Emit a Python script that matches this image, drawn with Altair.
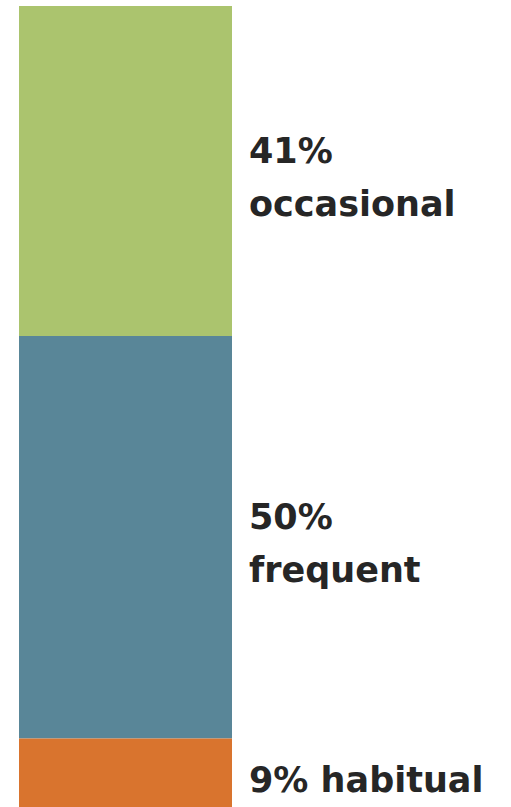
import altair as alt
import pandas as pd

categories = ["occasional", "frequent", "habitual"]
percents = [41, 50, 9]
stack_order = [3, 2, 1]
labels = ["41%\noccasional", "50%\nfrequent", "9% habitual"]
colors = ["#ABC46E", "#598698", "#D9742E"]

df = pd.DataFrame({
    "category": categories,
    "pct": percents,
    "order": stack_order,
    "label": labels,
    "group": ["all"] * 3,
})

base = alt.Chart(df).transform_stack(
    stack="pct", groupby=["group"], sort=[alt.SortField("order", order="ascending")], as_=["y0", "y1"]
).transform_calculate(mid="(datum.y0 + datum.y1) / 2")

yscale = alt.Scale(domain=[0, 100], nice=False, zero=True)

bars = base.mark_bar(stroke=None).encode(
    x=alt.X("group:N", scale=alt.Scale(paddingInner=0, paddingOuter=0), axis=None),
    y=alt.Y("y0:Q", scale=yscale, axis=None),
    y2="y1:Q",
    color=alt.Color("category:N", scale=alt.Scale(domain=categories, range=colors), legend=None),
)

text_style = dict(
    align="left", baseline="middle", dx=17,
    font="DejaVu Sans", fontWeight="bold", fontSize=35, lineHeight=53,
    lineBreak="\n", color="#262626",
)

text_enc = dict(
    x=alt.value(213),
    y=alt.Y("mid:Q", scale=yscale, axis=None),
    text="label:N",
)

text_multi = base.transform_filter("indexof(datum.label, '\\n') >= 0").mark_text(
    dy=-19, **text_style
).encode(**text_enc)

text_single = base.transform_filter("indexof(datum.label, '\\n') < 0").mark_text(
    dy=6, **text_style
).encode(**text_enc)

chart = alt.layer(bars, text_multi, text_single).properties(
    width=213, height=805,
    autosize=alt.AutoSizeParams(type="none"),
    padding={"left": 19, "top": 6, "right": 279, "bottom": 0},
).configure_view(strokeWidth=0)

chart.save("out.html", embed_options={"renderer": "svg", "actions": False})
